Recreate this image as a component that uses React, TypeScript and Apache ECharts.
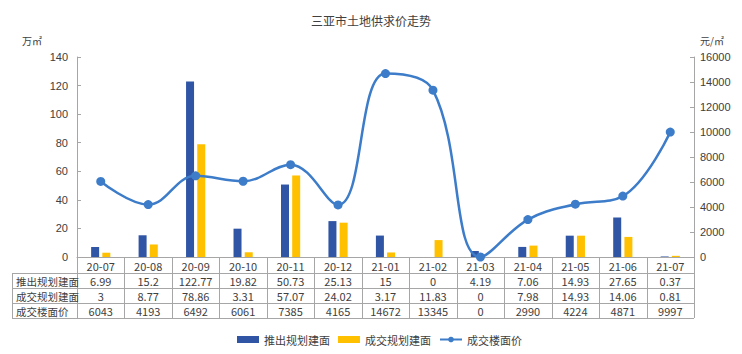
import React, { useEffect, useRef } from "react";
import * as echarts from "echarts";

const categories = ["20-07", "20-08", "20-09", "20-10", "20-11", "20-12", "21-01", "21-02", "21-03", "21-04", "21-05", "21-06", "21-07"];
const supplyArea = [6.99, 15.2, 122.77, 19.82, 50.73, 25.13, 15, 0, 4.19, 7.06, 14.93, 27.65, 0.37];
const dealArea = [3, 8.77, 78.86, 3.31, 57.07, 24.02, 3.17, 11.83, 0, 7.98, 14.93, 14.06, 0.81];
const floorPrice = [6043, 4193, 6492, 6061, 7385, 4165, 14672, 13345, 0, 2990, 4224, 4871, 9997];
const seriesNames = ["推出规划建面", "成交规划建面", "成交楼面价"];
const tableLabels = ["推出规划建面", "成交规划建面", "成交楼面价"];

const W = 742;
const H = 354;
const GX0 = 77;
const GX1 = 694;
const GY0 = 57;
const GY1 = 257;
const ROW_Y = [257, 273, 288, 303, 318];
const TABLE_LEFT = 12;
const FONT = "'Noto Sans CJK SC', 'Microsoft YaHei', sans-serif";

export default function App() {
  const ref = useRef<HTMLDivElement>(null);
  useEffect(() => {
    if (!ref.current) return;
    const chart = echarts.init(ref.current, undefined, { renderer: "svg" });
    const n = categories.length;
    const cw = (GX1 - GX0) / n;
    const lineColor = "#A6A6A6";
    const g: any[] = [];
    for (let i = 1; i < ROW_Y.length; i++) {
      g.push({ type: "line", shape: { x1: TABLE_LEFT, y1: ROW_Y[i] + 0.5, x2: GX1, y2: ROW_Y[i] + 0.5 }, style: { stroke: lineColor, lineWidth: 1 } });
    }
    g.push({ type: "line", shape: { x1: TABLE_LEFT + 0.5, y1: ROW_Y[1], x2: TABLE_LEFT + 0.5, y2: ROW_Y[4] }, style: { stroke: lineColor, lineWidth: 1 } });
    for (let j = 0; j <= n; j++) {
      const x = Math.round(GX0 + j * cw) + 0.5;
      g.push({ type: "line", shape: { x1: x, y1: ROW_Y[0], x2: x, y2: ROW_Y[4] }, style: { stroke: lineColor, lineWidth: 1 } });
    }
    const rows = [categories, supplyArea, dealArea, floorPrice];
    rows.forEach((row, r) => {
      const cy = (ROW_Y[r] + ROW_Y[r + 1]) / 2 + 0.5;
      row.forEach((v: any, j: number) => {
        g.push({
          type: "text",
          x: GX0 + (j + 0.5) * cw,
          y: cy,
          style: { text: String(v), fill: "#404040", font: `11px ${FONT}`, align: "center", verticalAlign: "middle" },
        });
      });
      if (r > 0) {
        g.push({
          type: "text",
          x: TABLE_LEFT + 4,
          y: cy,
          style: { text: tableLabels[r - 1], fill: "#404040", font: `10.5px ${FONT}`, align: "left", verticalAlign: "middle" },
        });
      }
    });
    g.push({ type: "text", x: 32, y: 40, style: { text: "万㎡", fill: "#404040", font: `10px ${FONT}`, align: "center", verticalAlign: "middle" } });
    g.push({ type: "text", x: 712, y: 40, style: { text: "元/㎡", fill: "#404040", font: `10px ${FONT}`, align: "center", verticalAlign: "middle" } });

    chart.setOption({
      animation: false,
      backgroundColor: "#ffffff",
      title: {
        text: "三亚市土地供求价走势",
        left: "center",
        top: 9,
        textStyle: { fontSize: 12, fontWeight: "normal", color: "#404040", fontFamily: FONT },
      },
      legend: {
        bottom: 4,
        left: 232,
        itemWidth: 22,
        itemHeight: 7,
        itemGap: 8,
        textStyle: { fontSize: 11, color: "#404040", fontFamily: FONT },
        data: [
          { name: seriesNames[0], icon: "rect" },
          { name: seriesNames[1], icon: "rect" },
          { name: seriesNames[2] },
        ],
      },
      grid: { left: GX0, right: W - GX1, top: GY0, bottom: H - GY1, containLabel: false },
      xAxis: {
        type: "category",
        data: categories,
        axisLine: { lineStyle: { color: lineColor } },
        axisTick: { show: false },
        axisLabel: { show: false },
      },
      yAxis: [
        {
          type: "value",
          min: 0,
          max: 140,
          interval: 20,
          axisLine: { show: true, lineStyle: { color: lineColor } },
          axisTick: { show: true, inside: true, length: 4, lineStyle: { color: lineColor } },
          splitLine: { show: false },
          axisLabel: { color: "#404040", fontSize: 11, margin: 9, fontFamily: "Arial, 'Liberation Sans', sans-serif" },
        },
        {
          type: "value",
          min: 0,
          max: 16000,
          interval: 2000,
          axisLine: { show: true, lineStyle: { color: lineColor } },
          axisTick: { show: true, inside: true, length: 4, lineStyle: { color: lineColor } },
          splitLine: { show: false },
          axisLabel: {
            color: "#404040",
            fontSize: 11,
            margin: 6,
            fontFamily: "Arial, 'Liberation Sans', sans-serif",
            formatter: (v: number) => String(v),
          },
        },
      ],
      series: [
        {
          name: seriesNames[0],
          type: "bar",
          data: supplyArea,
          barWidth: 8,
          barGap: "40%",
          itemStyle: { color: "#2F55A4" },
        },
        {
          name: seriesNames[1],
          type: "bar",
          data: dealArea,
          barWidth: 8,
          itemStyle: { color: "#FFC000" },
        },
        {
          name: seriesNames[2],
          type: "line",
          yAxisIndex: 1,
          data: floorPrice,
          smooth: 0.4,
          symbol: "circle",
          symbolSize: 9,
          lineStyle: { color: "#3D7CC9", width: 2.5 },
          itemStyle: { color: "#3D7CC9" },
        },
      ],
      graphic: g,
    });
    return () => chart.dispose();
  }, []);
  return <div ref={ref} style={{ width: W, height: H, position: "absolute", left: 0, top: 0 }} />;
}
